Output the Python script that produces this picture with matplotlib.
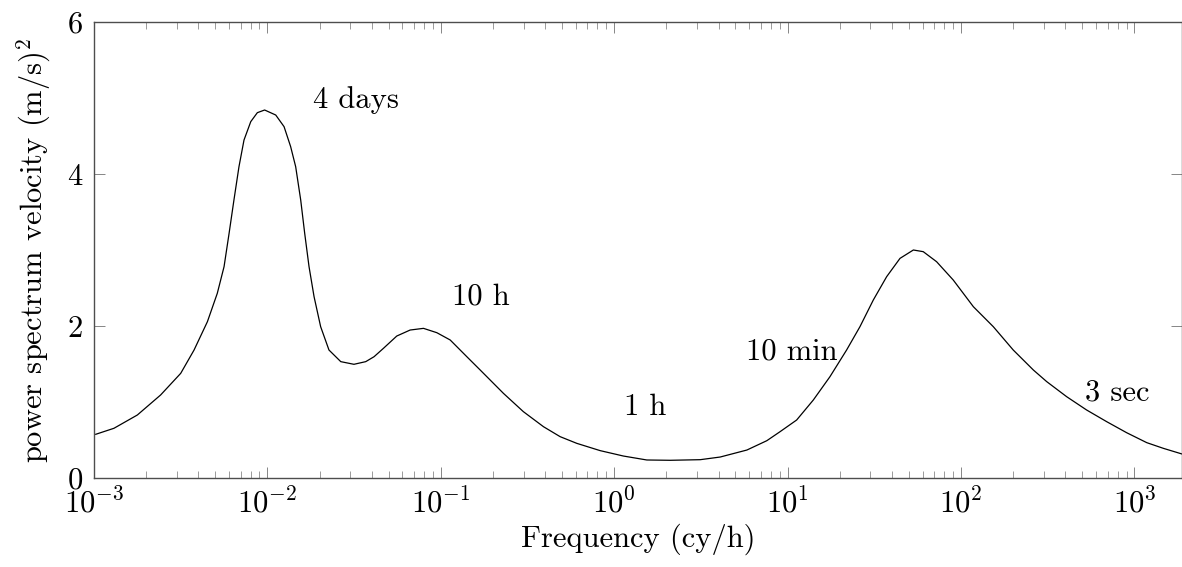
import numpy as np
import matplotlib
matplotlib.use("Agg")
import matplotlib.pyplot as plt
from matplotlib.ticker import LogLocator, FixedLocator, NullLocator

# ============================================================
# Spectrum data (log10 frequency in cy/h, power in (m/s)^2)
# ============================================================
log_freq = [
    -2.990, -2.885, -2.750, -2.616, -2.500, -2.423, -2.346, -2.289, -2.250,
    -2.221, -2.193, -2.164, -2.135, -2.096, -2.058, -2.016, -1.952, -1.904,
    -1.866, -1.837, -1.808, -1.785, -1.760, -1.731, -1.693, -1.645, -1.577,
    -1.501, -1.433, -1.385, -1.331, -1.254, -1.177, -1.100, -1.023, -0.946,
    -0.850, -0.773, -0.639, -0.524, -0.408, -0.312, -0.216, -0.081, 0.053,
    0.188, 0.323, 0.496, 0.611, 0.765, 0.880, 0.956, 1.052, 1.148,
    1.244, 1.340, 1.417, 1.494, 1.571, 1.648, 1.725, 1.782, 1.859,
    1.955, 2.071, 2.186, 2.301, 2.417, 2.494, 2.609, 2.724, 2.840,
    2.955, 3.032, 3.071, 3.167, 3.274,
]
power = [
    0.575, 0.654, 0.829, 1.092, 1.377, 1.684, 2.057, 2.430, 2.781,
    3.219, 3.658, 4.096, 4.447, 4.689, 4.807, 4.842, 4.776, 4.623,
    4.360, 4.096, 3.658, 3.219, 2.781, 2.386, 1.991, 1.684, 1.531,
    1.496, 1.531, 1.596, 1.706, 1.868, 1.947, 1.969, 1.912, 1.816,
    1.596, 1.421, 1.114, 0.873, 0.675, 0.544, 0.456, 0.360, 0.289,
    0.237, 0.233, 0.241, 0.276, 0.368, 0.491, 0.609, 0.763, 1.026,
    1.333, 1.684, 1.991, 2.342, 2.649, 2.890, 3.000, 2.978, 2.846,
    2.605, 2.254, 1.991, 1.684, 1.421, 1.268, 1.070, 0.895, 0.741,
    0.596, 0.509, 0.465, 0.390, 0.316,
]
freq = [10.0 ** v for v in log_freq]

# period labels and where they sit (freq, power)
period_labels = ["4 days", "10 h", "1 h", "10 min", "3 sec"]
label_freq = [0.0325, 0.171, 1.51, 10.6, 794.0]
label_power = [4.97, 2.38, 0.93, 1.66, 1.12]

y_ticks = [0, 2, 4, 6]

# ============================================================
# Style
# ============================================================
plt.rcParams["font.family"] = ["cmr10"]
plt.rcParams["mathtext.fontset"] = "cm"
plt.rcParams["axes.formatter.use_mathtext"] = True
plt.rcParams["axes.unicode_minus"] = True

FS = 22

fig = plt.figure(figsize=(11.82, 5.67), dpi=100)
ax = fig.add_axes([94 / 1182, 89 / 567, 1 - 94 / 1182, 456 / 567])

ax.plot(freq, power, color="black", lw=0.9)

for text, fx, py in zip(period_labels, label_freq, label_power):
    ax.text(fx, py, text, fontsize=FS, ha="center", va="center")

ax.set_xscale("log")
ax.set_xlim(1e-3, 1880)
ax.set_ylim(0, 6)

ax.xaxis.set_major_locator(LogLocator(base=10, numticks=20))
ax.xaxis.set_minor_locator(LogLocator(base=10, subs=np.arange(2, 10), numticks=50))
ax.yaxis.set_major_locator(FixedLocator(y_ticks))
ax.yaxis.set_minor_locator(NullLocator())

ax.tick_params(which="both", direction="in", top=True, right=True,
               color="0.45", labelsize=FS)
ax.tick_params(which="major", length=8, width=0.6, pad=7)
ax.tick_params(which="minor", length=5, width=0.5)
ax.tick_params(axis="y", pad=8)

for sp in ax.spines.values():
    sp.set_color("0.3")
    sp.set_linewidth(1.0)

ax.set_xlabel("Frequency (cy/h)", fontsize=FS, labelpad=3)
ax.set_ylabel("power spectrum velocity (m/s)$^2$", fontsize=FS, labelpad=10)

fig.savefig("out.png", dpi=100)
